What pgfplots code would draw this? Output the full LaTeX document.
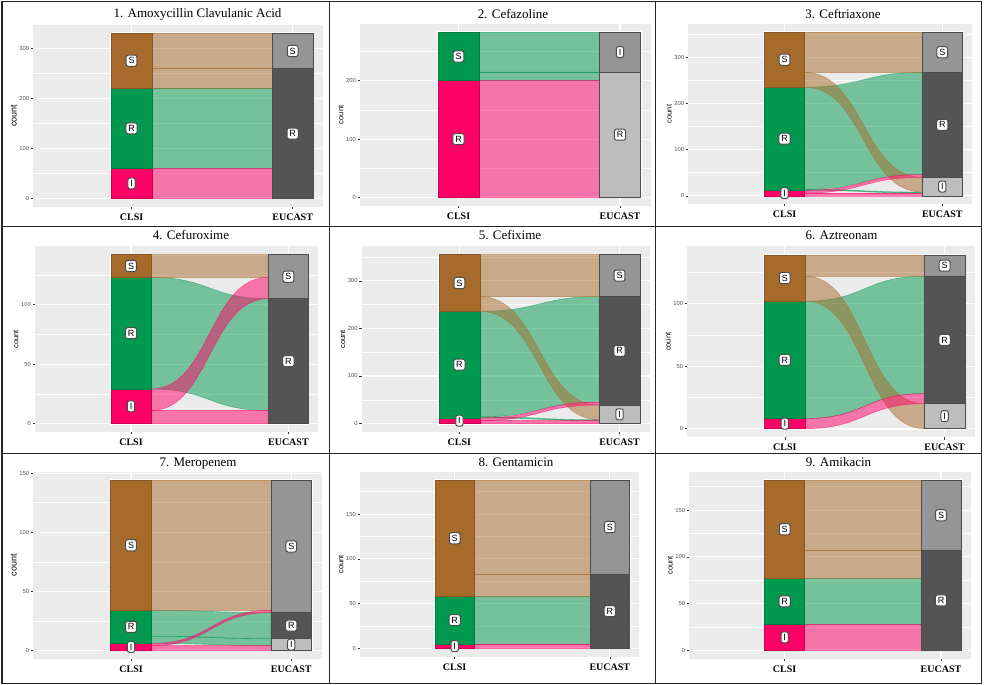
\documentclass[border=0pt]{standalone}
\usepackage{fontspec}
\setmainfont{Liberation Serif}
\setsansfont{Liberation Sans}
\usepackage{pgfplots}
\pgfplotsset{compat=1.18}

\definecolor{ggbg}{HTML}{EBEBEB}
\definecolor{ggtick}{HTML}{333333}
\definecolor{ggtext}{HTML}{4D4D4D}
\definecolor{cS}{HTML}{A66B2B}
\definecolor{cR}{HTML}{00994F}
\definecolor{cI}{HTML}{FF0066}
\definecolor{gMed}{HTML}{959595}
\definecolor{gDark}{HTML}{545454}
\definecolor{gLight}{HTML}{BDBDBD}

% flow: #1 a0, #2 a1 (CLSI side), #3 b0, #4 b1 (EUCAST side), #5 colour
\newcommand{\flow}[5]{%
\addplot[fill=#5, fill opacity=0.5, draw=#5, draw opacity=0.5, line width=0.6pt]
 coordinates {(1.1275,#2) (1.1275,#1)}
 .. controls (axis cs:1.5,#1) and (axis cs:1.5,#3) .. (axis cs:1.8725,#3)
 -- (axis cs:1.8725,#4)
 .. controls (axis cs:1.5,#4) and (axis cs:1.5,#2) .. (axis cs:1.1275,#2) -- cycle;}
\newcommand{\clsi}[3]{%
\addplot[fill=#3, draw=#3!80!black, line width=0.6pt]
 coordinates {(0.8725,#1) (1.1275,#1) (1.1275,#2) (0.8725,#2)} -- cycle;}
\newcommand{\euc}[3]{%
\addplot[fill=#3, draw=black!70, line width=0.6pt]
 coordinates {(1.8725,#1) (2.1275,#1) (2.1275,#2) (1.8725,#2)} -- cycle;}
\newcommand{\outline}[1]{%
\addplot[draw=white, line width=2pt]
 coordinates {(0.8725,0) (2.1275,0) (2.1275,#1) (0.8725,#1)} -- cycle;}

\pgfplotsset{
 alluv/.style={
  scale only axis, anchor=south west,
  xmin=0.39, xmax=2.19,
  axis background/.style={fill=ggbg},
  axis line style={draw=none},
  xtick={1,2}, xticklabels={CLSI,EUCAST},
  xmajorgrids, ymajorgrids, yminorgrids,
  major grid style={white, line width=1.1pt},
  minor grid style={white, line width=0.55pt},
  tick align=outside, tick pos=left,
  major tick length=2.5pt, minor tick length=0pt,
  tick style={draw=ggtick, line width=0.5pt},
  yticklabel style={font=\sffamily\fontsize{5.8}{6}\selectfont, text=ggtext, inner sep=1.5pt},
  xticklabel style={font=\bfseries\fontsize{10}{11}\selectfont, text=black, yshift=-1pt},
  ylabel={count},
  ylabel style={font=\sffamily\fontsize{7.5}{8}\selectfont, inner sep=1pt},
  /pgf/number format/assume math mode=true,
 },
 lab/.style={draw=none, mark=none, nodes near coords, point meta=explicit symbolic,
  every node near coord/.append style={anchor=center, fill=white, draw=black!70,
   line width=1pt, rounded corners=2.2pt, inner xsep=2.4pt, inner ysep=2.4pt,
   font=\sffamily\fontsize{9}{10}\selectfont, text=black}},
}

\begin{document}
\begin{tikzpicture}
\path[use as bounding box] (0,0) rectangle (986pt,685pt);

% ---------- 1. Amoxycillin Clavulanic Acid
\begin{axis}[alluv, at={(33.3pt,478.3pt)}, width=290pt, height=181.7pt,
 ymin=-16.55, ymax=347.55, ytick={0,100,200,300}, minor ytick={50,150,250},
 ylabel style={font=\sffamily\fontsize{9}{10}\selectfont}]
\outline{331}
\flow{60}{221}{60}{221}{cR}
\flow{221}{260}{221}{260}{cS}
\flow{260}{331}{260}{331}{cS}
\flow{0}{60}{0}{60}{cI}
\clsi{0}{60}{cI}
\clsi{60}{221}{cR}
\clsi{221}{331}{cS}
\euc{0}{260}{gDark}
\euc{260}{331}{gMed}
\addplot[lab] coordinates {(1,30) [I] (1,140.5) [R] (1,276) [S] (2,130) [R] (2,295.5) [S]};
\end{axis}

% ---------- 2. Cefazoline
\begin{axis}[alluv, at={(360pt,479.3pt)}, width=290.7pt, height=181.7pt,
 ymin=-14.15, ymax=297.15, ytick={0,100,200}, minor ytick={50,150,250}]
\outline{283}
\flow{200}{215}{200}{215}{cR}
\flow{215}{283}{215}{283}{cR}
\flow{0}{200}{0}{200}{cI}
\clsi{0}{200}{cI}
\clsi{200}{283}{cR}
\euc{0}{215}{gLight}
\euc{215}{283}{gMed}
\addplot[lab] coordinates {(1,100) [R] (1,241.5) [S] (2,107.5) [R] (2,249) [I]};
\end{axis}

% ---------- 3. Ceftriaxone
\begin{axis}[alluv, at={(688.3pt,481pt)}, width=284pt, height=180pt,
 ymin=-17.7, ymax=371.7, ytick={0,100,200,300}, minor ytick={50,150,250,350}]
\outline{354}
\flow{12}{14}{6}{8}{cR}
\flow{14}{235}{46}{267}{cR}
\flow{235}{267}{8}{40}{cS}
\flow{267}{354}{267}{354}{cS}
\flow{0}{6}{0}{6}{cI}
\flow{6}{12}{40}{46}{cI}
\clsi{0}{12}{cI}
\clsi{12}{235}{cR}
\clsi{235}{354}{cS}
\euc{0}{40}{gLight}
\euc{40}{267}{gDark}
\euc{267}{354}{gMed}
\addplot[lab] coordinates {(1,6) [I] (1,123.5) [R] (1,294.5) [S] (2,20) [I] (2,153.5) [R] (2,310.5) [S]};
\end{axis}

% ---------- 4. Cefuroxime
\begin{axis}[alluv, at={(35pt,253pt)}, width=283.3pt, height=185.7pt,
 ymin=-7.1, ymax=149.1, ytick={0,50,100}, minor ytick={25,75,125}]
\outline{142}
\flow{29}{123}{11}{105}{cR}
\flow{123}{142}{123}{142}{cS}
\flow{0}{11}{0}{11}{cI}
\flow{11}{29}{105}{123}{cI}
\clsi{0}{29}{cI}
\clsi{29}{123}{cR}
\clsi{123}{142}{cS}
\euc{0}{105}{gDark}
\euc{105}{142}{gMed}
\addplot[lab] coordinates {(1,14.5) [I] (1,76) [R] (1,132.5) [S] (2,52.5) [R] (2,123.5) [S]};
\end{axis}

% ---------- 5. Cefixime
\begin{axis}[alluv, at={(361.7pt,253pt)}, width=288.3pt, height=185.7pt,
 ymin=-17.75, ymax=372.75, ytick={0,100,200,300}, minor ytick={50,150,250,350}]
\outline{355}
\flow{12}{14}{6}{8}{cR}
\flow{14}{236}{45}{267}{cR}
\flow{236}{267}{8}{39}{cS}
\flow{267}{355}{267}{355}{cS}
\flow{0}{6}{0}{6}{cI}
\flow{6}{12}{39}{45}{cI}
\clsi{0}{12}{cI}
\clsi{12}{236}{cR}
\clsi{236}{355}{cS}
\euc{0}{39}{gLight}
\euc{39}{267}{gDark}
\euc{267}{355}{gMed}
\addplot[lab] coordinates {(1,6) [I] (1,124) [R] (1,295.5) [S] (2,19.5) [I] (2,153) [R] (2,311) [S]};
\end{axis}

% ---------- 6. Aztreonam
\begin{axis}[alluv, at={(687.3pt,247.7pt)}, width=287.7pt, height=191pt,
 ymin=-6.95, ymax=145.95, ytick={0,50,100}, minor ytick={25,75,125}]
\outline{139}
\flow{8}{102}{28}{122}{cR}
\flow{102}{122}{0}{20}{cS}
\flow{122}{139}{122}{139}{cS}
\flow{0}{8}{20}{28}{cI}
\clsi{0}{8}{cI}
\clsi{8}{102}{cR}
\clsi{102}{139}{cS}
\euc{0}{20}{gLight}
\euc{20}{122}{gDark}
\euc{122}{139}{gMed}
\addplot[lab] coordinates {(1,4) [I] (1,55) [R] (1,120.5) [S] (2,10) [I] (2,71) [R] (2,130.5) [S]};
\end{axis}

% ---------- 7. Meropenem
\begin{axis}[alluv, at={(33.3pt,26pt)}, width=288.4pt, height=187.3pt,
 ymin=-7.2, ymax=151.2, ytick={0,50,100,150}, minor ytick={25,75,125},
 ylabel style={font=\sffamily\fontsize{9}{10}\selectfont}]
\outline{144}
\flow{6}{12}{4}{10}{cR}
\flow{12}{34}{10}{32}{cR}
\flow{34}{144}{34}{144}{cS}
\flow{0}{4}{0}{4}{cI}
\flow{4}{6}{32}{34}{cI}
\clsi{0}{6}{cI}
\clsi{6}{34}{cR}
\clsi{34}{144}{cS}
\euc{0}{10}{gLight}
\euc{10}{32}{gDark}
\euc{32}{144}{gMed}
\addplot[lab] coordinates {(1,3) [I] (1,20) [R] (1,89) [S] (2,5) [I] (2,21) [R] (2,88) [S]};
\end{axis}

% ---------- 8. Gentamicin
\begin{axis}[alluv, at={(360pt,28.3pt)}, width=279.3pt, height=185pt,
 ymin=-9.4, ymax=197.4, ytick={0,50,100,150}, minor ytick={25,75,125,175}]
\outline{188}
\flow{5}{58}{5}{58}{cR}
\flow{58}{83}{58}{83}{cS}
\flow{83}{188}{83}{188}{cS}
\flow{0}{5}{0}{5}{cI}
\clsi{0}{5}{cI}
\clsi{5}{58}{cR}
\clsi{58}{188}{cS}
\euc{0}{83}{gDark}
\euc{83}{188}{gMed}
\addplot[lab] coordinates {(1,2.5) [I] (1,31.5) [R] (1,123) [S] (2,41.5) [R] (2,135.5) [S]};
\end{axis}

% ---------- 9. Amikacin
\begin{axis}[alluv, at={(689.3pt,26pt)}, width=281.4pt, height=187.3pt,
 ymin=-9.1, ymax=191.1, ytick={0,50,100,150}, minor ytick={25,75,125,175}]
\outline{182}
\flow{28}{77}{28}{77}{cR}
\flow{77}{107}{77}{107}{cS}
\flow{107}{182}{107}{182}{cS}
\flow{0}{28}{0}{28}{cI}
\clsi{0}{28}{cI}
\clsi{28}{77}{cR}
\clsi{77}{182}{cS}
\euc{0}{107}{gDark}
\euc{107}{182}{gMed}
\addplot[lab] coordinates {(1,14) [I] (1,52.5) [R] (1,129.5) [S] (2,53.5) [R] (2,144.5) [S]};
\end{axis}

% ---------- titles
\begin{scope}[every node/.style={font=\fontsize{13}{15}\selectfont, anchor=base, inner sep=0pt}]
\node at (197.5pt,667.2pt) {1. Amoxycillin Clavulanic Acid};
\node at (513pt,666.5pt) {2. Cefazoline};
\node at (843pt,666.5pt) {3. Ceftriaxone};
\node at (191pt,445.2pt) {4. Cefuroxime};
\node at (510pt,445.2pt) {5. Cefixime};
\node at (841.5pt,445.2pt) {6. Aztreonam};
\node at (198pt,218.2pt) {7. Meropenem};
\node at (516pt,218.8pt) {8. Gentamicin};
\node at (838.5pt,218.5pt) {9. Amikacin};
\end{scope}

% ---------- frame
\begin{scope}[draw=black!85, line width=1.3pt]
\draw (2pt,1.8pt) rectangle (981.5pt,683.3pt);
\draw (329.3pt,1.8pt) -- (329.3pt,683.3pt);
\draw (655.3pt,1.8pt) -- (655.3pt,683.3pt);
\draw (2pt,458.3pt) -- (981.5pt,458.3pt);
\draw (2pt,231.7pt) -- (981.5pt,231.7pt);
\end{scope}
\end{tikzpicture}
\end{document}
